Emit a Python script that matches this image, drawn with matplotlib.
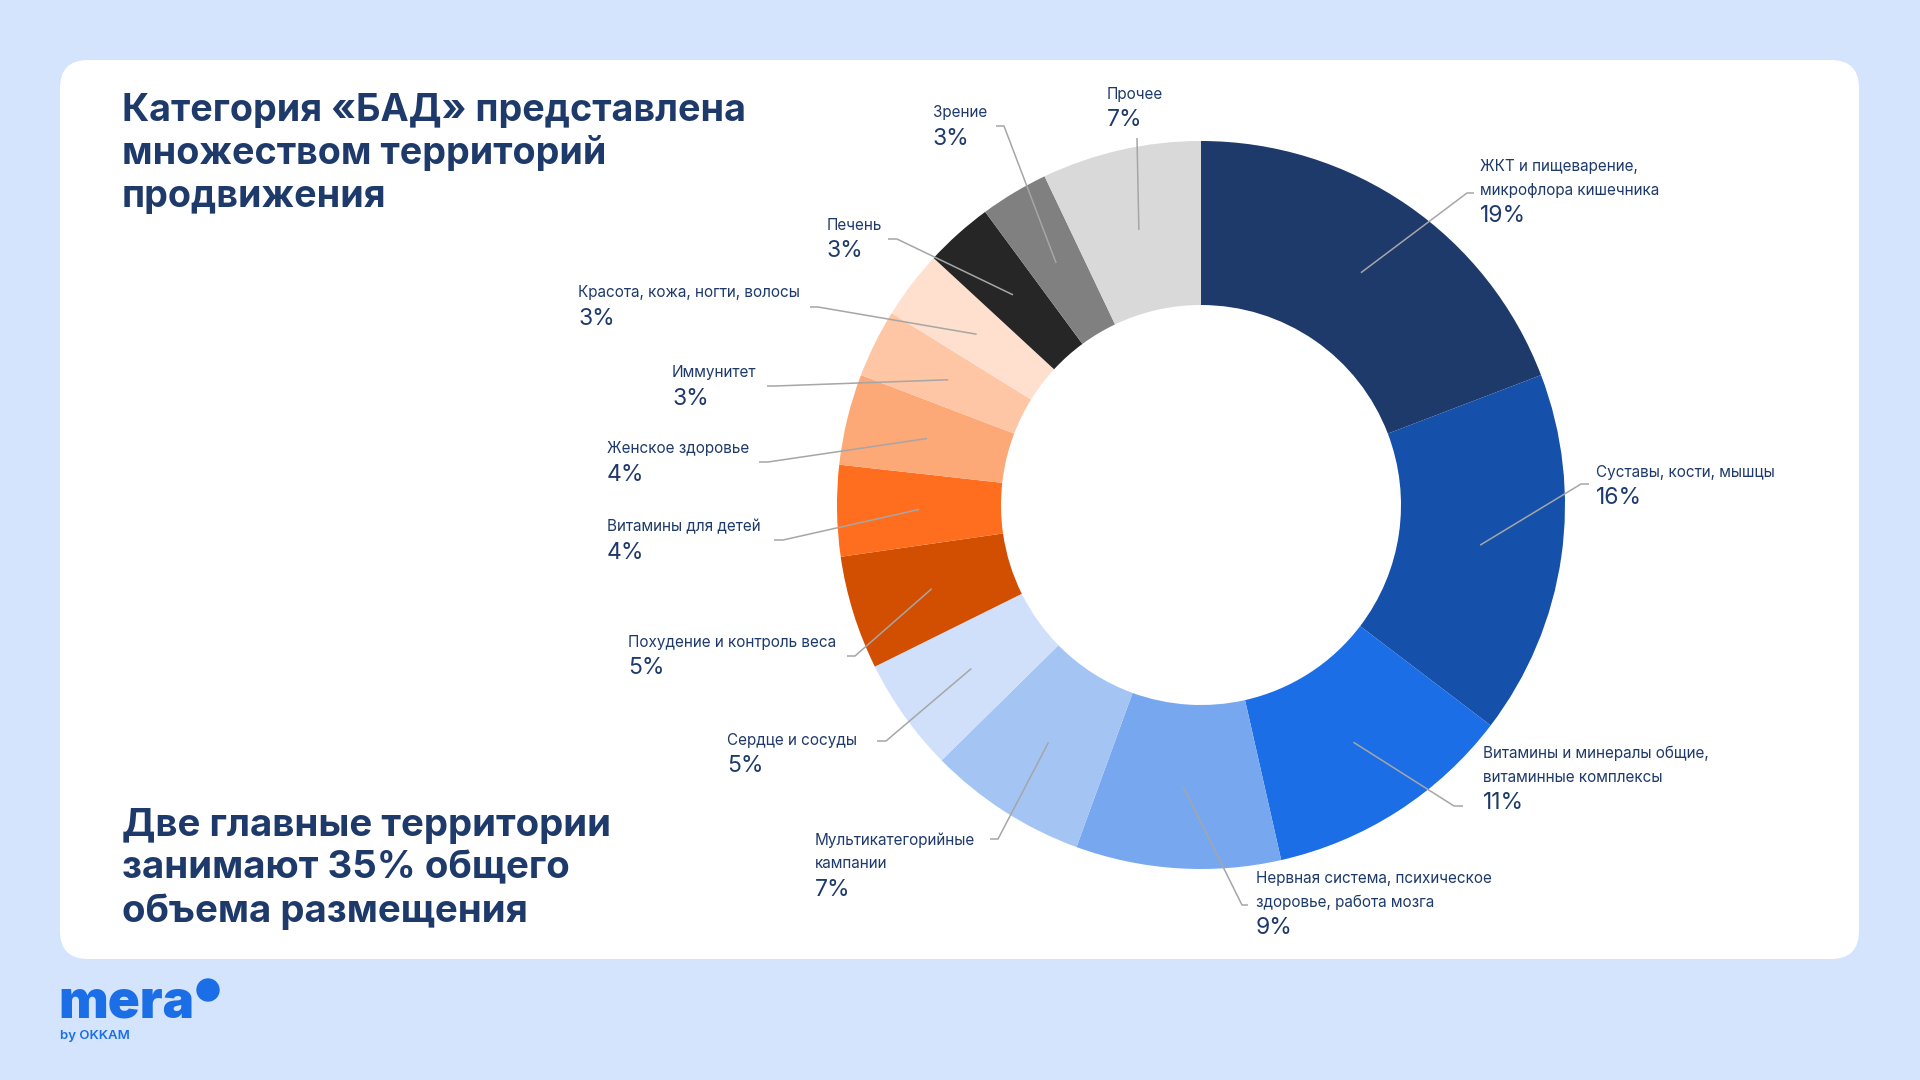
import matplotlib
matplotlib.use("Agg")
import matplotlib.pyplot as plt
from matplotlib.patches import FancyBboxPatch, Circle
import numpy as np

plt.rcParams['font.family'] = ['Inter', 'DejaVu Sans']

# ---------------- data ----------------
categories = [
    "ЖКТ и пищеварение,\nмикрофлора кишечника",
    "Суставы, кости, мышцы",
    "Витамины и минералы общие,\nвитаминные комплексы",
    "Нервная система, психическое\nздоровье, работа мозга",
    "Мультикатегорийные\nкампании",
    "Сердце и сосуды",
    "Похудение и контроль веса",
    "Витамины для детей",
    "Женское здоровье",
    "Иммунитет",
    "Красота, кожа, ногти, волосы",
    "Печень",
    "Зрение",
    "Прочее",
]
values = [19, 16, 11, 9, 7, 5, 5, 4, 4, 3, 3, 3, 3, 7]
pct_labels = [f"{v}%" for v in values]

colors = ["#1E3A6B", "#1550AA", "#1C6EE6", "#77A7EE", "#A4C4F4", "#D0E0FA",
          "#D24E00", "#FF6E1E", "#FDA877", "#FEC6A5", "#FFE0CF",
          "#262626", "#808080", "#D9D9D9"]

# label layout (pixel positions: text left x, first line centre y, leader elbow x, leader end x, leader y)
label_pos = [
    (1480, 166, 1467, 1474, 193),
    (1596, 472, 1581, 1589, 484),
    (1483, 753, 1454, 1463, 806),
    (1256, 878, 1242, 1248, 905),
    (815, 840, 998, 990, 839),
    (727, 740, 886, 877, 741),
    (628, 642, 855, 847, 656),
    (607, 527, 783, 774, 540),
    (607, 449, 768, 759, 462),
    (672, 373, 775, 767, 386),
    (578, 293, 818, 810, 307),
    (827, 225, 897, 888, 239),
    (933, 113, 1004, 996, 126),
    (1107, 94, 1137, 1137, 138),
]

title = "Категория «БАД» представлена\nмножеством территорий\nпродвижения"
subtitle = "Две главные территории\nзанимают 35% общего\nобъема размещения"

NAVY = "#1E3A6B"
BLUE = "#1C6EE6"

fig = plt.figure(figsize=(19.2, 10.8), dpi=100)
fig.patch.set_facecolor("#D4E4FD")
ax = fig.add_axes([0, 0, 1, 1])

card = FancyBboxPatch((60, 60), 1799, 899, boxstyle="round,pad=0,rounding_size=28",
                      fc="white", ec="none", zorder=0)
ax.add_patch(card)

cx, cy, R, W = 1201, 505, 364, 164
wedges, _ = ax.pie(values, colors=colors, startangle=-90, counterclock=True,
                   center=(cx, cy), radius=R, frame=True,
                   wedgeprops=dict(width=W, edgecolor="none", linewidth=0))
for w in wedges:
    w.set_zorder(2)

ax.set_xlim(0, 1920)
ax.set_ylim(1080, 0)
ax.set_aspect("auto")
ax.axis("off")

rmid = R - W / 2
for w, name, pct, (tx, ty, ex, endx, ly) in zip(wedges, categories, pct_labels, label_pos):
    th = np.deg2rad((w.theta1 + w.theta2) / 2)
    sx, sy = cx + rmid * np.cos(th), cy + rmid * np.sin(th)
    ax.plot([sx, ex, endx], [sy, ly, ly], color="#A6A6A6", lw=1.1, zorder=3,
            solid_capstyle="butt")
    lines = name.split("\n")
    for k, ln in enumerate(lines):
        ax.text(tx, ty + 24 * k, ln, fontsize=11, color=NAVY, ha="left", va="center", zorder=4)
    ax.text(tx, ty + 24 * (len(lines) - 1) + 26, pct, fontsize=16.5, color=NAVY,
            ha="left", va="center", zorder=4)

ax.text(122, 207, title, fontsize=27.2, fontweight="bold", color=NAVY, ha="left",
        va="baseline", linespacing=1.25, zorder=4)
ax.text(122, 922, subtitle, fontsize=27.7, fontweight="bold", color=NAVY, ha="left",
        va="baseline", linespacing=1.23, zorder=4)

# logo
ax.text(58, 1018, "mera", fontsize=38, fontweight="black", color=BLUE, ha="left",
        va="baseline", zorder=4)
ax.add_patch(Circle((208, 990), 11, color=BLUE, zorder=4))
ax.text(60, 1036, "by OKKAM", fontsize=9.5, fontweight="semibold", color=BLUE, ha="left",
        va="center", zorder=4)

fig.savefig("out.png", dpi=100, facecolor=fig.get_facecolor())
